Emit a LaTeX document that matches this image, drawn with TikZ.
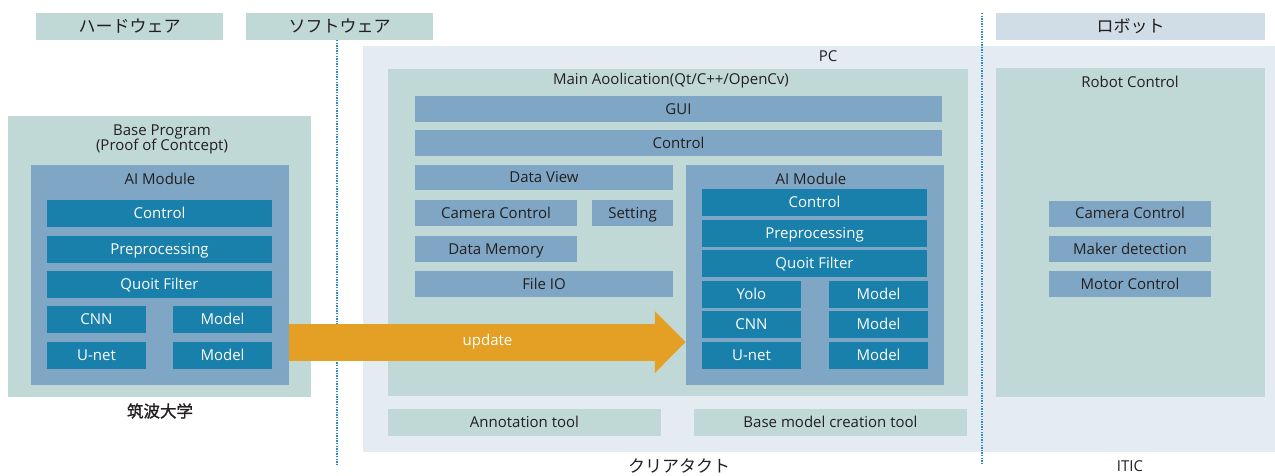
\documentclass[tikz,border=0pt]{standalone}
\usepackage{fontspec}
\setmainfont{Open Sans}
\newfontfamily\jp{Noto Sans CJK JP}
\newfontfamily\jpb[FakeBold=1.2]{Noto Sans CJK JP}
\usetikzlibrary{arrows.meta}
\definecolor{lteal}{RGB}{192,217,214}
\definecolor{lblue}{RGB}{208,220,230}
\definecolor{pcbg}{RGB}{228,236,242}
\definecolor{midblue}{RGB}{127,166,196}
\definecolor{darkblue}{RGB}{24,128,170}
\definecolor{orng}{RGB}{227,160,36}
\definecolor{txt}{RGB}{35,31,32}
\definecolor{dotc}{RGB}{42,139,198}
\tikzset{
  box/.style={inner sep=0pt, text=txt, font=\fontsize{15}{17}\selectfont, text height=11pt, text depth=0.3pt},
  hdr/.style={box, fill=lteal, font=\jp\fontsize{17}{18}\selectfont, text height=13pt, text depth=1pt},
  panel/.style={box, fill=lteal},
  mid/.style={box, fill=midblue},
  dark/.style={box, fill=darkblue, text=white},
  lbl/.style={inner sep=0pt, text=txt, font=\fontsize{15}{17}\selectfont, align=center},
  jlbl/.style={inner sep=0pt, text=txt, font=\jp\fontsize{17}{18}\selectfont},
  sep/.style={draw=dotc, line width=1.3pt, dash pattern=on 1.3pt off 1.3pt},
}
\begin{document}
\begin{tikzpicture}[x=1pt,y=-1pt]
\useasboundingbox (0,0) rectangle (1275,475);
% headers
\node[hdr, minimum width=187pt, minimum height=27pt] (hw) at (129.5,26.5) {ハードウェア};
\node[hdr, minimum width=187pt, minimum height=27pt] (sw) at (339.5,26.5) {ソフトウェア};
\node[hdr, fill=lblue, minimum width=269pt, minimum height=27pt] (rb) at (1130.5,26.5) {ロボット};
% PC background
\node[box, fill=pcbg, minimum width=912pt, minimum height=406pt] (pc) at (819,249) {};
\node[lbl] (pcl) at (828,56) {PC};
% separators
\coordinate (s1a) at (337,40); \coordinate (s1b) at (337,465);
\coordinate (s2a) at (982,13); \coordinate (s2b) at (982,465);
\draw[sep] (s1a) -- (s1b);
\draw[sep] (s2a) -- (s2b);
% left base program
\node[panel, minimum width=303pt, minimum height=281pt] (base) at (159.5,256.5) {};
\node[lbl] (basel) at (162,139.5) {Base Program\\[-2pt](Proof of Contcept)};
\node[mid, minimum width=258pt, minimum height=220pt] (laim) at (160,275) {};
\node[lbl] (laiml) at (160,179) {AI Module};
\node[dark, minimum width=225pt, minimum height=27pt] (lctl) at (159.5,213.5) {Control};
\node[dark, minimum width=225pt, minimum height=27pt] (lpre) at (159.5,249.5) {Preprocessing};
\node[dark, minimum width=225pt, minimum height=27pt] (lqf) at (159.5,284.5) {Quoit Filter};
\node[dark, minimum width=99pt, minimum height=27pt] (lcnn) at (96.5,319.5) {CNN};
\node[dark, minimum width=99pt, minimum height=27pt] (lm1) at (222.5,319.5) {Model};
\node[dark, minimum width=99pt, minimum height=27pt] (lun) at (96.5,355.5) {U-net};
\node[dark, minimum width=99pt, minimum height=27pt] (lm2) at (222.5,355.5) {Model};
\node[jlbl, font=\jpb\fontsize{16.5}{18}\selectfont] (tsukuba) at (160,411) {筑波大学};
% main application
\node[panel, minimum width=580pt, minimum height=327pt] (main) at (678,232.5) {};
\node[lbl] (mainl) at (671,81) {Main Aoolication(Qt/C++/OpenCv)};
\node[mid, minimum width=527pt, minimum height=26pt] (gui) at (678.5,109) {GUI};
\node[mid, minimum width=527pt, minimum height=26pt] (mctl) at (678.5,143) {Control};
\node[mid, minimum width=258pt, minimum height=25pt] (dv) at (544,177.5) {Data View};
\node[mid, minimum width=162pt, minimum height=26pt] (cam) at (496,213) {Camera Control};
\node[mid, minimum width=81pt, minimum height=26pt] (set) at (632.5,213) {Setting};
\node[mid, minimum width=162pt, minimum height=26pt] (dm) at (496,249) {Data Memory};
\node[mid, minimum width=258pt, minimum height=26pt] (fio) at (544,284) {File IO};
% right AI module
\node[mid, minimum width=258pt, minimum height=220pt] (raim) at (815,275) {};
\node[lbl] (raiml) at (811,179) {AI Module};
\node[dark, minimum width=225pt, minimum height=27pt] (rctl) at (814.5,202.5) {Control};
\node[dark, minimum width=225pt, minimum height=27pt] (rpre) at (814.5,233) {Preprocessing};
\node[dark, minimum width=225pt, minimum height=27pt] (rqf) at (814.5,263.5) {Quoit Filter};
\node[dark, minimum width=99pt, minimum height=27pt] (ryolo) at (751.5,294.5) {Yolo};
\node[dark, minimum width=99pt, minimum height=27pt] (rm1) at (878.5,294.5) {Model};
\node[dark, minimum width=99pt, minimum height=27pt] (rcnn) at (751.5,324.5) {CNN};
\node[dark, minimum width=99pt, minimum height=27pt] (rm2) at (878.5,324.5) {Model};
\node[dark, minimum width=99pt, minimum height=27pt] (run) at (751.5,355.5) {U-net};
\node[dark, minimum width=99pt, minimum height=27pt] (rm3) at (878.5,355.5) {Model};
% tools
\node[panel, minimum width=273pt, minimum height=27pt] (ann) at (524.5,422.5) {Annotation tool};
\node[panel, minimum width=273pt, minimum height=27pt] (bmc) at (830.5,422.5) {Base model creation tool};
\node[jlbl] (clear) at (679,466) {クリアタクト};
% robot
\node[panel, minimum width=269pt, minimum height=329pt] (robot) at (1130.5,232.5) {};
\node[lbl] (robotl) at (1130,82) {Robot Control};
\node[mid, minimum width=162pt, minimum height=26pt] (rcam) at (1130,213.5) {Camera Control};
\node[mid, minimum width=162pt, minimum height=26pt] (rmk) at (1130,249) {Maker detection};
\node[mid, minimum width=162pt, minimum height=26pt] (rmot) at (1130,284) {Motor Control};
\node[lbl] (itic) at (1130,466) {ITIC};
% update arrow
\coordinate (arrS) at (laim.east |- 0,342);
\draw[orng, line width=37pt, line cap=butt, -{Triangle[length=31pt,width=60pt]}] (arrS) -- (arrS -| raim.west)
  node[pos=0.5, text=white, font=\fontsize{15}{17}\selectfont, inner sep=0pt] (upd) {update};
\end{tikzpicture}
\end{document}
